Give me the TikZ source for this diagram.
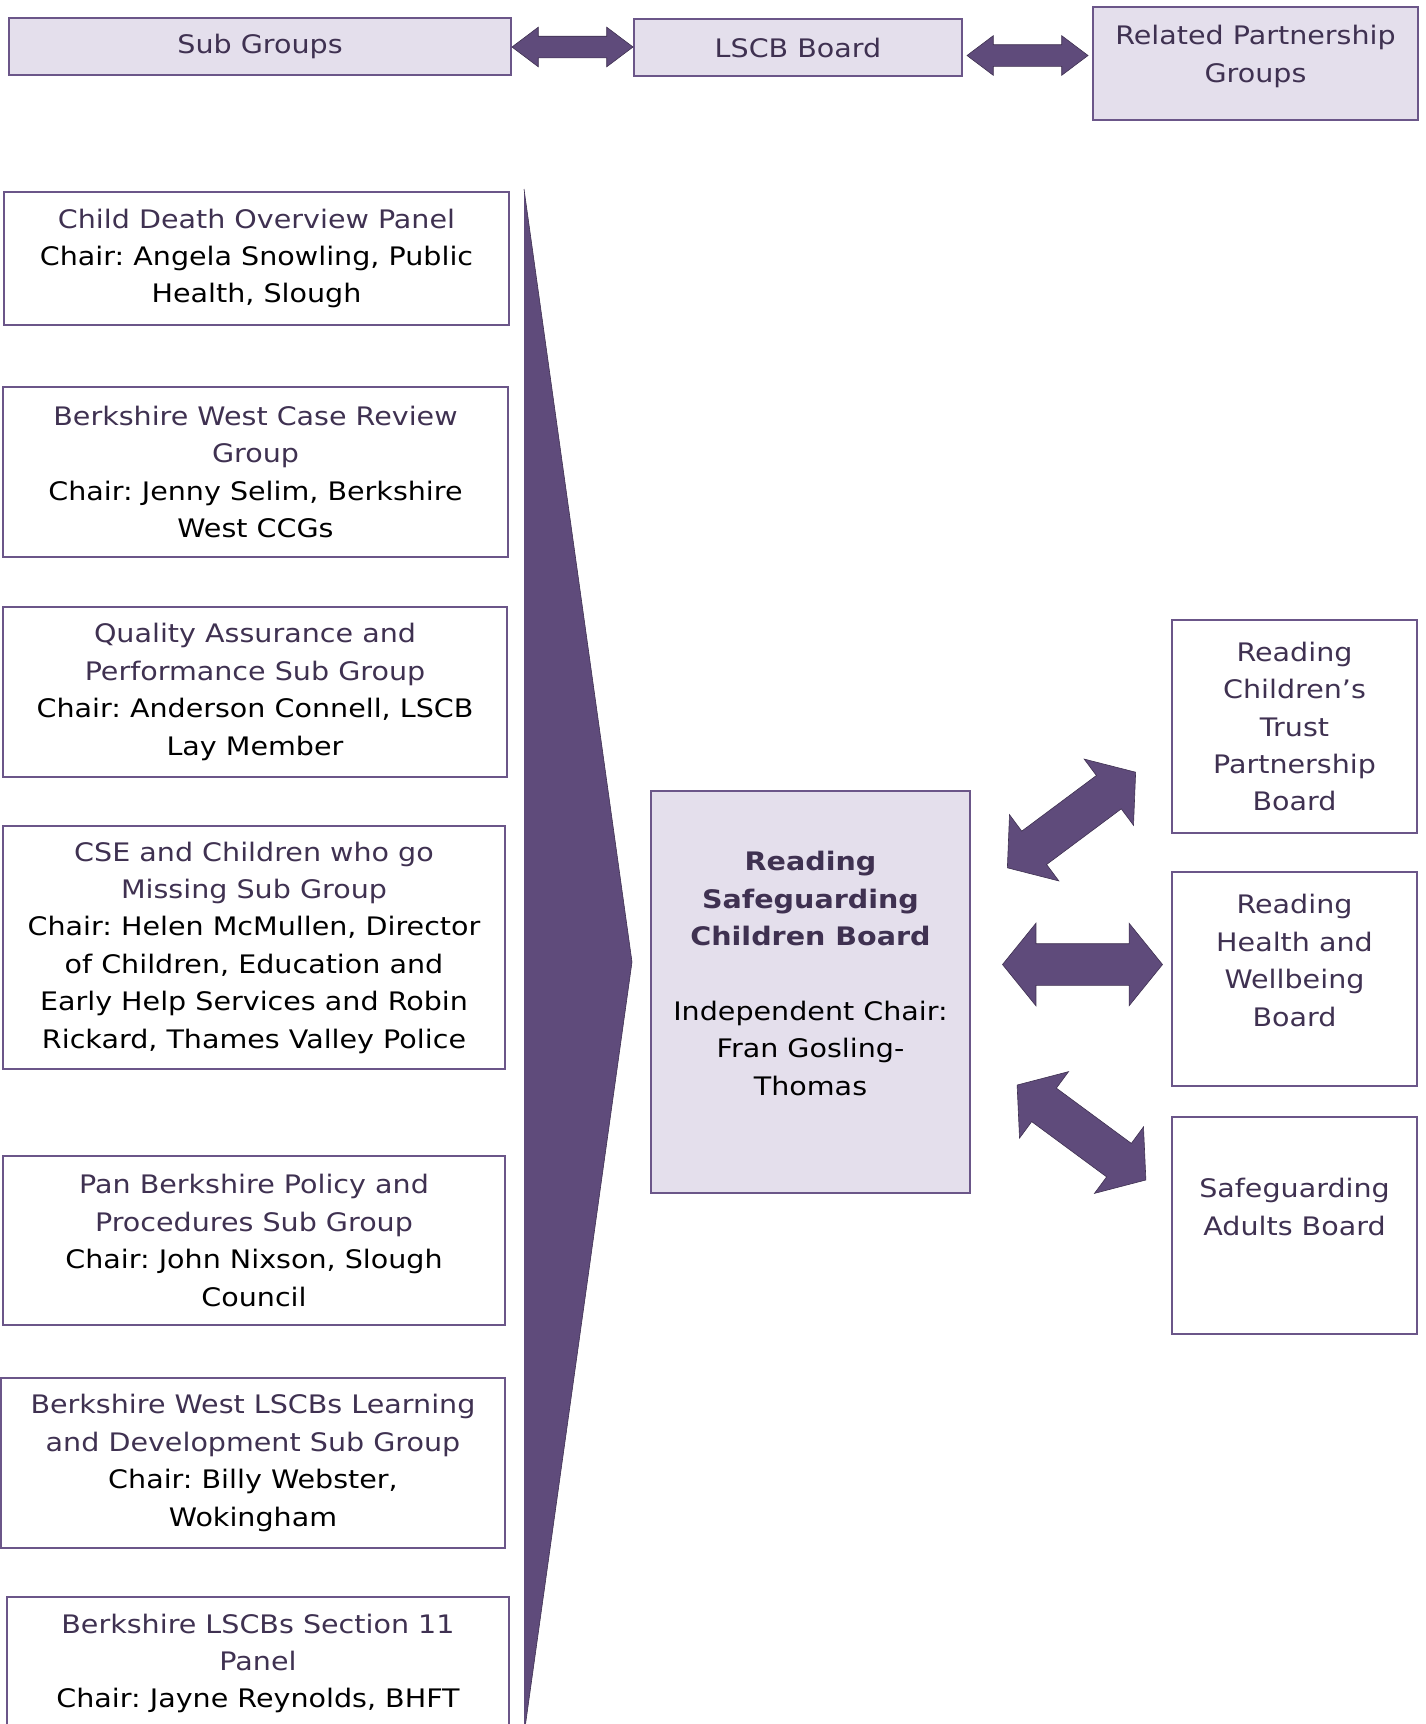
\documentclass[tikz,border=0pt]{standalone}
\usepackage{fontspec}
\setmainfont{DejaVu Sans}[FakeStretch=1.12]
\usetikzlibrary{shapes.arrows,calc}

\definecolor{lscbdark}{HTML}{5F4B7B}
\definecolor{lscbline}{HTML}{6B5689}
\definecolor{lscbfill}{HTML}{E4DFEC}
\definecolor{lscbtitle}{HTML}{3F3151}

\newcommand{\ttl}[1]{\textcolor{lscbtitle}{#1}}

\begin{document}
\frenchspacing
\begin{tikzpicture}[x=1pt,y=-1pt,
    box/.style={draw=lscbline, line width=1.6pt, rectangle, align=center,
      inner sep=0pt, font=\fontsize{25.5}{37.4}\selectfont},
    topbox/.style={box, fill=lscbfill, text=lscbtitle},
    smallarrow/.style={double arrow, fill=lscbdark, draw=lscbtitle, line width=0.6pt,
      inner sep=0pt, text height=21pt, text depth=0pt, minimum height=121pt,
      double arrow head extend=9pt, double arrow tip angle=74},
    bigarrow/.style={double arrow, fill=lscbdark, draw=lscbtitle, line width=0.6pt,
      inner sep=0pt, text height=41pt, text depth=0pt, minimum height=160pt,
      double arrow head extend=20.5pt, double arrow tip angle=102}]

    % Area del disegno
    \clip (0,0) rectangle (1425,1724);

    % Riga in alto
    \node[topbox, minimum width=502pt, minimum height=57pt] (subg) at (260,46.5) {Sub Groups};
    \node[topbox, minimum width=328pt, minimum height=57pt] (lscb) at (798,47.5) {LSCB Board};
    \node[topbox, minimum width=325pt, minimum height=113pt] (relp) at (1255.5,63.5)
        {Related Partnership\\Groups\\[-18pt]\mbox{}};
    \node[smallarrow] (arsl) at ($(subg.east)!0.5!(lscb.west)$) {};
    \node[smallarrow] (arlr) at ($(lscb.east)!0.5!(relp.west)$) {};

    % Grande freccia a punta
    \fill[lscbdark] (524,189) -- (632,962) -- (524,1735) -- cycle;
    \draw[lscbtitle, line width=0.6pt] (524,189) -- (632,962) -- (524,1735);

    % Sotto gruppi a sinistra
    \node[box, minimum width=505pt, minimum height=133pt] (cdop) at (256.5,258.5)
        {\ttl{Child Death Overview Panel}\\Chair: Angela Snowling, Public\\Health, Slough};
    \node[box, minimum width=505pt, minimum height=170pt] (bwcr) at (255.5,472)
        {\ttl{Berkshire West Case Review}\\\ttl{Group}\\Chair: Jenny Selim, Berkshire\\West CCGs};
    \node[box, minimum width=504pt, minimum height=170pt] (qaps) at (255,692)
        {\ttl{Quality Assurance and}\\\ttl{Performance Sub Group}\\Chair: Anderson Connell, LSCB\\Lay Member};
    \node[box, minimum width=502pt, minimum height=243pt] (csem) at (254,947.5)
        {\ttl{CSE and Children who go}\\\ttl{Missing Sub Group}\\Chair: Helen McMullen, Director\\of Children, Education and\\Early Help Services and Robin\\Rickard, Thames Valley Police};
    \node[box, minimum width=502pt, minimum height=169pt] (pbpp) at (254,1240.5)
        {\ttl{Pan Berkshire Policy and}\\\ttl{Procedures Sub Group}\\Chair: John Nixson, Slough\\Council};
    \node[box, minimum width=504pt, minimum height=170pt] (bwld) at (253,1463)
        {\ttl{Berkshire West LSCBs Learning}\\\ttl{and Development Sub Group}\\Chair: Billy Webster,\\Wokingham};
    \node[box, minimum width=502pt, minimum height=133pt] (sect) at (258,1663.5)
        {\ttl{Berkshire LSCBs Section 11}\\\ttl{Panel}\\Chair: Jayne Reynolds, BHFT};

    % Board centrale
    \node[box, fill=lscbfill, minimum width=319pt, minimum height=402pt] (rscb) at (810.5,992)
        {\textcolor{lscbtitle}{\bfseries Reading}\\\textcolor{lscbtitle}{\bfseries Safeguarding}\\
         \textcolor{lscbtitle}{\bfseries Children Board}\\\mbox{}\\Independent Chair:\\Fran Gosling-\\Thomas\\\mbox{}};

    % Partner a destra
    \node[box, text=lscbtitle, minimum width=245pt, minimum height=213pt] (rctp) at (1294.5,726.5)
        {Reading\\Children’s\\Trust\\Partnership\\Board};
    \node[box, text=lscbtitle, minimum width=245pt, minimum height=214pt] (rhwb) at (1294.5,979)
        {Reading\\Health and\\Wellbeing\\Board\\\mbox{}};
    \node[box, text=lscbtitle, minimum width=245pt, minimum height=217pt] (sadb) at (1294.5,1225.5)
        {Safeguarding\\Adults Board\\\mbox{}};

    % Frecce doppie
    \node[bigarrow, rotate=36.7] (arup) at (1071.5,820) {};
    \node[bigarrow] (armd) at (1082.5,964.5) {};
    \node[bigarrow, rotate=-36.4] (ardn) at (1081.5,1132.5) {};
\end{tikzpicture}
\end{document}
